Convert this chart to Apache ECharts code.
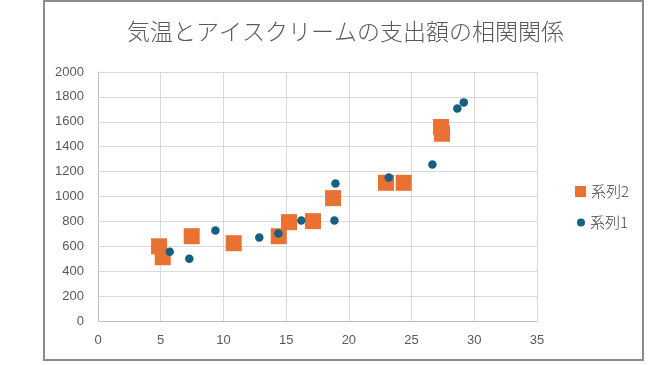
<!DOCTYPE html>
<html>
<head>
<meta charset="utf-8">
<script src="https://cdn.jsdelivr.net/npm/echarts@6/dist/echarts.min.js"></script>
<style>
html,body{margin:0;padding:0;background:#fff;}
#chart{width:666px;height:365px;}
</style>
</head>
<body>
<div id="chart"></div>
<script>
const titleText = '気温とアイスクリームの支出額の相関関係';
const series1Name = '系列1';
const series2Name = '系列2';
// 系列1 (blue circles): [temperature, spending]
const series1X = [5.72, 7.28, 9.36, 12.86, 14.38, 16.21, 18.85, 18.93, 23.18, 26.66, 28.65, 29.16];
const series1Y = [557, 500, 726, 670, 702, 807, 807, 1104, 1153, 1257, 1707, 1756];
// 系列2 (orange squares)
const series2X = [4.87, 5.16, 7.47, 10.82, 14.41, 15.23, 17.14, 18.74, 22.96, 24.37, 27.35, 27.43];
const series2Y = [600, 512, 681, 625, 681, 794, 802, 987, 1110, 1110, 1558, 1504];

const xMin = 0, xMax = 35, xStep = 5;
const yMin = 0, yMax = 2000, yStep = 200;

const zip = (xs, ys) => xs.map((x, i) => [x, ys[i]]);

const chart = echarts.init(document.getElementById('chart'), null, {renderer: 'canvas'});
const labelFont = {color: '#595959', fontSize: 13, fontFamily: 'Liberation Sans, Arial, sans-serif'};
chart.setOption({
  animation: false,
  backgroundColor: '#ffffff',
  title: {
    text: titleText,
    left: 122,
    top: 15,
    textStyle: {color: '#595959', fontSize: 23, fontWeight: 300, fontFamily: 'Noto Sans CJK JP'}
  },
  graphic: [{
    type: 'rect',
    shape: {x: 44, y: 1, width: 599, height: 359},
    style: {fill: 'none', stroke: '#8c8c8c', lineWidth: 2},
    silent: true,
    z: 100
  }],
  grid: {left: 98, right: 129, top: 72, bottom: 44, containLabel: false},
  xAxis: {
    type: 'value', min: xMin, max: xMax, interval: xStep,
    axisLine: {show: true, lineStyle: {color: '#bfbfbf', width: 1}},
    axisTick: {show: false},
    splitLine: {show: true, lineStyle: {color: '#d9d9d9', width: 1}},
    axisLabel: Object.assign({margin: 13, formatter: v => String(v)}, labelFont)
  },
  yAxis: {
    type: 'value', min: yMin, max: yMax, interval: yStep,
    axisLine: {show: true, lineStyle: {color: '#bfbfbf', width: 1}},
    axisTick: {show: false},
    splitLine: {show: true, lineStyle: {color: '#d9d9d9', width: 1}},
    axisLabel: Object.assign({margin: 14, formatter: v => String(v)}, labelFont)
  },
  legend: [{
    data: [series2Name],
    orient: 'vertical',
    left: 570, top: 179,
    icon: 'rect',
    itemWidth: 11, itemHeight: 11,
    itemGap: 5,
    textStyle: {color: '#404040', fontSize: 15, fontWeight: 300, fontFamily: 'Noto Sans CJK JP'}
  }, {
    data: [series1Name],
    orient: 'vertical',
    left: 572, top: 210,
    icon: 'circle',
    itemWidth: 8, itemHeight: 8,
    itemGap: 6,
    textStyle: {color: '#404040', fontSize: 15, fontWeight: 300, fontFamily: 'Noto Sans CJK JP'}
  }],
  series: [{
    name: series2Name,
    type: 'scatter',
    symbol: 'rect',
    symbolSize: 16,
    itemStyle: {color: '#E97132', opacity: 1},
    data: zip(series2X, series2Y),
    z: 2
  }, {
    name: series1Name,
    type: 'scatter',
    symbol: 'circle',
    symbolSize: 8.5,
    itemStyle: {color: '#156082', opacity: 1},
    data: zip(series1X, series1Y),
    z: 3
  }]
});
</script>
</body>
</html>
